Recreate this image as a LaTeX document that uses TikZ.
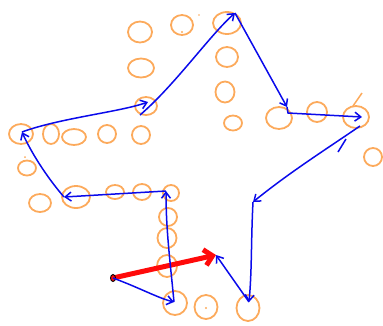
\documentclass[tikz,border=0pt]{standalone}
\usetikzlibrary{arrows.meta,shapes.geometric}
\definecolor{org}{RGB}{252,170,92}
\definecolor{blu}{RGB}{10,10,235}
\definecolor{rd}{RGB}{255,10,10}
\begin{document}
\begin{tikzpicture}[x=1pt,y=-1pt,
  ring/.style={draw=org,line width=1.8pt,ellipse,inner sep=0pt},
  bl/.style={draw=blu,line width=1.5pt,-{Straight Barb[length=6pt,width=9pt]}},
  rarr/.style={draw=rd,line width=5pt,-{Straight Barb[length=8pt,width=16pt]}}]
\useasboundingbox (0,0) rectangle (383,325);
% orange rings
\foreach \n/\x/\y/\w/\h in {
 o1/140/32/24/21, o2/182/25/22/20, o3/141/68/26/19, o4/146/106/22/18,
 o5/21/134/24/20, o6/51/134/16/20, o7/74/137/24/16, o8/107/134/18/18,
 o9/141/135/18/18, o10/27/168/18/15, o11/227/23/28/22, o12/227/57/22/20,
 o13/225/92/19/21, o14/233/123/18/15, o15/279/118/26/22, o16/317/112/20/20,
 o17/356/117/26/22, o18/373/157/18/18, o19/40/203/22/18, o20/76/197/28/22,
 o21/115/192/18/14, o22/142/192/18/16, o23/171/193/16/16, o24/168/217/18/18,
 o25/167/238/19/20, o26/167/266/20/22, o27/175/303/24/24, o28/206/307/23/24,
 o29/248/308/23/26}
 \node[ring,minimum width=\w pt,minimum height=\h pt] (\n) at (\x,\y) {};
\fill[org] (182,32) circle (1.2pt) (206,308) circle (1.2pt) (25,157) circle (1pt) (199,15) circle (0.8pt);
\draw[org,line width=1.5pt] (353,106) -- (362,93);
% star vertices
\coordinate (p0) at (113,278);
\coordinate (p1) at (174,302);
\coordinate (p2) at (166,191);
\coordinate (p3) at (64,197);
\coordinate (p4) at (22,132);
\coordinate (p5) at (148,102);
\coordinate (p5b) at (140,115);
\coordinate (p6) at (235,13);
\coordinate (p7) at (287,107);
\coordinate (p7b) at (288,113);
\coordinate (p8) at (362,117);
\coordinate (p8b) at (360,126);
\coordinate (p9) at (253,202);
\coordinate (p10) at (249,302);
\coordinate (p11) at (216,255);
% red arrow
\draw[rarr] (p0) -- (p11);
\fill[rd,draw=black,line width=0.9pt] (p0) ellipse (2.5pt and 3.5pt);
% blue path
\draw[bl] (p0) .. controls (140,288) and (158,298) .. (p1);
\draw[bl] (p1) .. controls (170,260) and (166,230) .. (p2);
\draw[bl] (p2) -- (p3);
\draw[bl] (p3) .. controls (45,175) and (30,150) .. (p4);
\draw[bl] (p4) .. controls (60,118) and (120,112) .. (p5);
\draw[bl] (p5b) .. controls (175,85) and (210,35) .. (p6);
\draw[bl] (p6) -- (p7);
\draw[bl] (p7) -- (p7b) -- (p8);
\draw[bl] (p8b) .. controls (325,150) and (290,172) .. (p9);
\draw[blu,line width=1.5pt] (338,152) -- (346,139);
\draw[bl] (p9) .. controls (251,240) and (252,270) .. (p10);
\draw[bl] (p10) -- (p11);
\end{tikzpicture}
\end{document}
